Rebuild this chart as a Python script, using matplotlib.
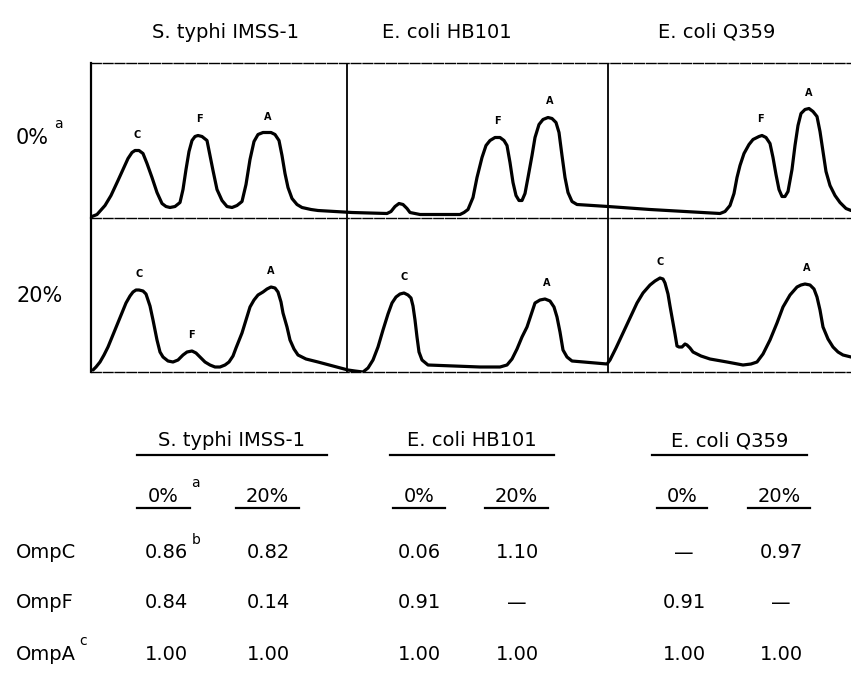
import matplotlib.pyplot as plt

# densitometer scans, x = scan position, y = density (both)
scan0_x = [1, 6, 14, 20, 27, 32, 37, 41, 44, 48, 52, 56, 61, 66, 71, 75, 79, 84, 89, 92, 95, 98,
           101, 104, 107, 111, 116, 119, 122, 126, 131, 136, 141, 146, 151, 155, 159, 163, 167,
           172, 180, 184, 188, 191, 194, 197, 201, 206, 211, 220, 227, 261, 296, 300, 304, 308,
           312, 316, 319, 324, 329, 369, 373, 377, 382, 386, 391, 395, 399, 404, 409, 413, 416,
           419, 422, 425, 428, 431, 434, 437, 441, 444, 448, 452, 457, 461, 465, 468, 471, 474,
           477, 481, 486, 517, 559, 629, 634, 639, 643, 646, 649, 653, 658, 662, 668, 671, 675,
           679, 682, 685, 688, 691, 694, 697, 701, 704, 707, 710, 714, 718, 722, 726, 729, 732,
           735, 739, 744, 749, 755, 760]
scan0_y = [1, 3, 12, 22, 37, 48, 59, 65, 67, 67, 64, 54, 40, 25, 14, 11, 10, 11, 15, 28, 48, 66,
           77, 81, 82, 81, 77, 62, 47, 28, 17, 11, 10, 12, 16, 33, 58, 76, 83, 85, 85, 83, 77, 62,
           44, 30, 19, 13, 10, 8, 7, 5, 4, 6, 11, 14, 13, 9, 5, 4, 3, 3, 5, 8, 20, 40, 60, 72, 77,
           80, 80, 77, 72, 55, 35, 22, 17, 17, 24, 40, 62, 80, 93, 98, 100, 99, 95, 85, 62, 40, 25,
           16, 13, 11, 8, 4, 6, 12, 24, 40, 52, 64, 73, 78, 81, 82, 80, 74, 60, 43, 28, 21, 21, 26,
           48, 72, 92, 104, 108, 109, 106, 101, 86, 66, 46, 32, 22, 15, 9, 7]

scan20_x = [2, 5, 9, 13, 17, 24, 31, 35, 39, 42, 45, 48, 52, 55, 59, 62, 66, 69, 72, 77, 82, 87,
            92, 96, 101, 105, 109, 114, 119, 124, 129, 134, 138, 142, 145, 151, 155, 159, 163, 167,
            172, 176, 180, 184, 187, 190, 192, 196, 199, 203, 207, 215, 227, 257, 264, 272, 277,
            282, 287, 292, 297, 301, 305, 309, 313, 317, 320, 322, 324, 326, 328, 331, 337, 389,
            409, 416, 421, 426, 431, 436, 441, 444, 449, 454, 459, 463, 466, 469, 472, 476, 481,
            516, 519, 525, 532, 539, 546, 552, 559, 564, 569, 572, 574, 577, 579, 581, 584, 586,
            588, 591, 594, 596, 599, 602, 610, 619, 636, 652, 660, 666, 672, 679, 686, 692, 699,
            706, 710, 714, 719, 723, 726, 729, 732, 737, 742, 747, 752, 760]
scan20_y = [2, 5, 10, 17, 25, 42, 59, 69, 76, 80, 82, 82, 81, 78, 66, 52, 32, 20, 15, 11, 10, 12,
            17, 20, 21, 19, 15, 10, 7, 5, 5, 7, 10, 16, 24, 39, 52, 65, 72, 77, 80, 83, 85, 84, 80,
            70, 59, 45, 32, 23, 17, 13, 10, 2, 1, 0, 4, 12, 25, 42, 58, 69, 75, 78, 79, 77, 74, 66,
            52, 35, 20, 12, 7, 5, 5, 7, 13, 23, 35, 45, 60, 69, 72, 73, 71, 65, 55, 40, 22, 15, 11,
            8, 12, 24, 39, 54, 69, 79, 87, 91, 94, 93, 89, 78, 66, 55, 38, 26, 25, 25, 28, 27, 24,
            20, 16, 13, 10, 7, 8, 10, 18, 32, 49, 65, 77, 85, 87, 88, 87, 83, 75, 62, 45, 33, 25,
            20, 17, 15]

# peak labels: (scan position, letter)
peaks0 = [(46, 'C'), (108, 'F'), (177, 'A'), (406, 'F'), (459, 'A'), (669, 'F'), (718, 'A')]
peaks20 = [(48, 'C'), (100, 'F'), (180, 'A'), (313, 'C'), (456, 'A'), (569, 'C'), (716, 'A')]

strains = ['S. typhi IMSS-1', 'E. coli HB101', 'E. coli Q359']
strain_x = [225, 447, 717]
dividers = [256, 517]

# table
col_x = [166, 268, 419, 517, 684, 781]
conc = ['0%', '20%', '0%', '20%', '0%', '20%']
proteins = ['OmpC', 'OmpF', 'OmpA']
ompc = ['0.86', '0.82', '0.06', '1.10', '—', '0.97']
ompf = ['0.84', '0.14', '0.91', '—', '0.91', '—']
ompa = ['1.00', '1.00', '1.00', '1.00', '1.00', '1.00']

W, H = 851, 678
fnt = ['DejaVu Sans']
fig = plt.figure(figsize=(W / 100, H / 100), dpi=100)


def fx(px):
    return px / W


def fy(py):
    return 1 - py / H


rows = [(scan0_x, scan0_y, peaks0, 63, 217.5), (scan20_x, scan20_y, peaks20, 217.5, 372)]
for i, (xs, ys, pk, top, bot) in enumerate(rows):
    ax = fig.add_axes([fx(91), fy(bot), fx(851 - 91), (bot - top) / H])
    ax.plot(xs, ys, color='black', lw=2.3, solid_joinstyle='round', solid_capstyle='round')
    ax.set_xlim(0, 760)
    ax.set_ylim(0, bot - top)
    ax.set_xticks([])
    ax.set_yticks([])
    ax.spines['right'].set_visible(False)
    ax.spines['left'].set_linewidth(1.6)
    ax.spines['bottom'].set_linewidth(1.0)
    ax.spines['bottom'].set_linestyle((0, (7, 1.5)))
    if i == 0:
        ax.spines['top'].set_linewidth(1.0)
        ax.spines['top'].set_linestyle((0, (7, 1.5)))
    else:
        ax.spines['top'].set_visible(False)
    for d in dividers:
        ax.axvline(d, color='black', lw=1.3)
    for px, letter in pk:
        near = [y for x, y in zip(xs, ys) if abs(x - px) <= 8]
        ax.text(px, max(near) + 16, letter, ha='center', va='center', fontsize=7,
                fontweight='bold', family='DejaVu Sans')
    ax.patch.set_alpha(0)

for s, x in zip(strains, strain_x):
    fig.text(fx(x), fy(32), s, ha='center', va='center', fontsize=14, family=fnt)

fig.text(fx(16), fy(138), '0%', ha='left', va='center', fontsize=15, family=fnt)
fig.text(fx(54), fy(124), 'a', ha='left', va='center', fontsize=10, family=fnt)
fig.text(fx(16), fy(296), '20%', ha='left', va='center', fontsize=15, family=fnt)

# table headers with underlines
head_span = [(137, 327), (390, 554), (652, 807)]
for s, (a, b) in zip(strains, head_span):
    fig.text(fx((a + b) / 2), fy(441), s, ha='center', va='center', fontsize=14, family=fnt)
    fig.add_artist(plt.Line2D([fx(a), fx(b)], [fy(455), fy(455)], color='black', lw=1.6))

sub_span = [(137, 190), (236, 299), (393, 445), (485, 548), (657, 707), (748, 810)]
for c, (a, b) in zip(conc, sub_span):
    fig.text(fx((a + b) / 2), fy(496), c, ha='center', va='center', fontsize=14, family=fnt)
    fig.add_artist(plt.Line2D([fx(a), fx(b)], [fy(508), fy(508)], color='black', lw=1.6))
fig.text(fx(191), fy(483), 'a', ha='left', va='center', fontsize=10, family=fnt)

row_y = [553, 603, 655]
for p, vals, y in zip(proteins, [ompc, ompf, ompa], row_y):
    fig.text(fx(16), fy(y), p, ha='left', va='center', fontsize=14, family=fnt)
    for v, x in zip(vals, col_x):
        fig.text(fx(x), fy(y), v, ha='center', va='center', fontsize=14, family=fnt)
fig.text(fx(192), fy(540), 'b', ha='left', va='center', fontsize=10, family=fnt)
fig.text(fx(79), fy(641), 'c', ha='left', va='center', fontsize=10, family=fnt)

fig.savefig('out.png', dpi=100)
